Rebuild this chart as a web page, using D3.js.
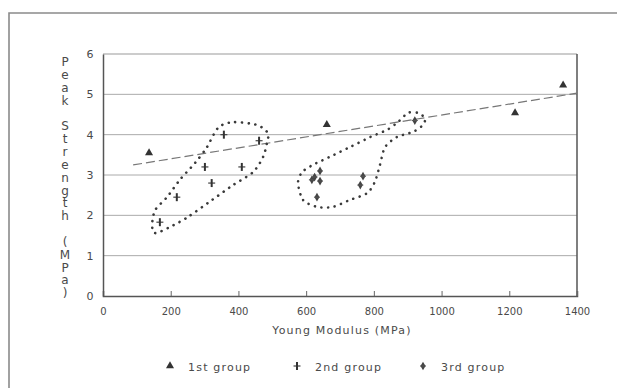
<!DOCTYPE html>
<html><head><meta charset="utf-8">
<script src="https://cdn.jsdelivr.net/npm/d3@7"></script>
<style>
html,body{margin:0;padding:0;background:#fff;}
svg{display:block;}
text{font-family:"DejaVu Sans",sans-serif;fill:#4a4a4a;}
</style></head>
<body>
<svg id="c" width="617" height="388"></svg>
<script>
// ---- data ----
const xTicks = [0, 200, 400, 600, 800, 1000, 1200, 1400];
const yTicks = [0, 1, 2, 3, 4, 5, 6];
const group1 = [[136, 3.55], [661, 4.25], [1217, 4.54], [1359, 5.23]];
const group2 = [[168, 1.83], [218, 2.45], [301, 3.2], [321, 2.8], [357, 4.0], [410, 3.2], [461, 3.85]];
const group3 = [[641, 3.1], [617, 2.88], [641, 2.85], [625, 2.95], [632, 2.45], [768, 2.97], [760, 2.75], [921, 4.35]];
const trendX = [89, 1400];
const trendY = [3.25, 5.03];
const loop1 = [[145,1.76],[154,1.56],[198,1.71],[251,1.96],[322,2.38],[384,2.75],[443,3.07],[473,3.45],[485,3.82],[487,4.04],[455,4.24],[384,4.31],[340,4.17],[307,3.69],[272,3.30],[227,2.88],[189,2.45],[154,2.13]];
const loop2 = [[576,2.80],[591,2.38],[632,2.21],[679,2.21],[729,2.38],[780,2.55],[803,2.83],[818,3.25],[833,3.69],[868,3.94],[916,4.07],[945,4.24],[951,4.41],[930,4.54],[901,4.54],[871,4.31],[839,4.12],[789,3.94],[729,3.69],[670,3.45],[620,3.25],[588,3.07]];
const legendLabels = ["1st group", "2nd group", "3rd group"];
const yTitle = "Peak Strength (MPa)";
const xTitle = "Young Modulus (MPa)";

const svg = d3.select("#c");
const x = d3.scaleLinear().domain([0, 1400]).range([103, 577]);
const y = d3.scaleLinear().domain([0, 6]).range([296, 54]);

// outer frame
svg.append("path").attr("d", "M9,388V13H617").attr("fill", "none").attr("stroke", "#8a8a8a").attr("stroke-width", 1.6);

// gridlines
svg.append("g").selectAll("line").data(yTicks.filter(d => d > 0 && d < 6)).join("line")
  .attr("x1", x(0)).attr("x2", x(1400)).attr("y1", d => y(d)).attr("y2", d => y(d))
  .attr("stroke", "#aaa").attr("stroke-width", 1);
// top and right frame
svg.append("line").attr("x1", x(0)).attr("x2", x(1400)).attr("y1", y(6)).attr("y2", y(6)).attr("stroke", "#999").attr("stroke-width", 1.2);
svg.append("line").attr("x1", x(1400)).attr("x2", x(1400)).attr("y1", y(6)).attr("y2", y(0)).attr("stroke", "#555").attr("stroke-width", 1.5);

// axes
const xAxis = d3.axisBottom(x).tickValues(xTicks).tickSize(-5).tickPadding(12).tickFormat(d3.format("d"));
const gx = svg.append("g").attr("transform", `translate(0,${y(0)})`).call(xAxis);
gx.select(".domain").attr("stroke", "#555").attr("stroke-width", 1.5);
gx.selectAll(".tick line").attr("stroke", "#666");
gx.selectAll("text").attr("font-size", 10).style("fill", "#4a4a4a");

const yAxis = d3.axisLeft(y).tickValues(yTicks).tickSize(0).tickPadding(13).tickFormat(d3.format("d"));
const gy = svg.append("g").attr("transform", `translate(${x(0)},0)`).call(yAxis);
gy.select(".domain").attr("stroke", "#555").attr("stroke-width", 1.5);
gy.selectAll("text").attr("font-size", 11).style("fill", "#4a4a4a").attr("text-anchor", "middle");

// trend line
svg.append("line").attr("x1", x(trendX[0])).attr("y1", y(trendY[0])).attr("x2", x(trendX[1])).attr("y2", y(trendY[1]))
  .attr("stroke", "#777").attr("stroke-width", 1.2).attr("stroke-dasharray", "9,4");

// dotted loops
const loopLine = d3.line().x(d => x(d[0])).y(d => y(d[1])).curve(d3.curveCardinalClosed.tension(0.2));
[loop1, loop2].forEach(L => {
  svg.append("path").attr("d", loopLine(L)).attr("fill", "none").attr("stroke", "#3a3a3a")
    .attr("stroke-width", 2.6).attr("stroke-linecap", "round").attr("stroke-dasharray", "0.1,6.6");
});

// markers
const tri = d3.symbol().type(d3.symbolTriangle).size(28);
const star = d3.symbol().type(d3.symbolDiamond).size(22);
function drawMarker(g, type, px, py) {
  if (type === 0) g.append("path").attr("d", tri()).attr("transform", `translate(${px},${py})`).attr("fill", "#333");
  else if (type === 1) {
    g.append("line").attr("x1", px - 3.5).attr("x2", px + 3.5).attr("y1", py).attr("y2", py).attr("stroke", "#444").attr("stroke-width", 1.2);
    g.append("line").attr("x1", px).attr("x2", px).attr("y1", py - 4).attr("y2", py + 4).attr("stroke", "#333").attr("stroke-width", 2);
  } else {
    g.append("path").attr("d", star()).attr("transform", `translate(${px},${py})`).attr("fill", "#444");
    g.append("line").attr("x1", px - 3).attr("x2", px + 3).attr("y1", py).attr("y2", py).attr("stroke", "#555").attr("stroke-width", 1);
  }
}
const gm = svg.append("g");
group1.forEach(d => drawMarker(gm, 0, x(d[0]), y(d[1])));
group2.forEach(d => drawMarker(gm, 1, x(d[0]), y(d[1])));
group3.forEach(d => drawMarker(gm, 2, x(d[0]), y(d[1])));

// y title stacked letters
const yChars = yTitle.split("");
const yPos = d3.scaleLinear().domain([0, yChars.length - 1]).range([62, 293]);
svg.append("g").selectAll("text").data(yChars).join("text")
  .attr("x", 65).attr("y", (d, i) => yPos(i)).attr("dy", "0.35em")
  .attr("text-anchor", "middle").attr("font-size", 12).text(d => d);

// x title
svg.append("text").attr("x", 342).attr("y", 330).attr("dy", "0.35em").attr("text-anchor", "middle")
  .attr("font-size", 11).attr("letter-spacing", 1.2).text(xTitle);

// legend
const legX = [170, 297, 423];
const gl = svg.append("g");
legendLabels.forEach((t, i) => {
  drawMarker(gl, i, legX[i], 366);
  gl.append("text").attr("x", legX[i] + 18).attr("y", 367).attr("dy", "0.35em").attr("font-size", 11)
    .attr("letter-spacing", 1.2).text(t);
});
</script>
</body></html>
